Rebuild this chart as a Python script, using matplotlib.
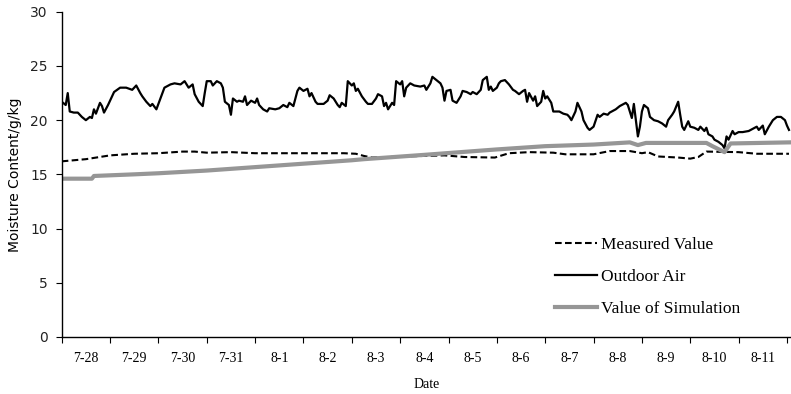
import numpy as np
import matplotlib.pyplot as plt
from matplotlib.ticker import FixedLocator, NullFormatter

# hourly stamps (hours since 7-28 00:00) and moisture content in g/kg
outdoor_hours = [0, 2, 3, 4, 6, 8, 10, 12, 14, 15, 16, 17, 19, 20, 21, 23, 25, 26, 29, 32,
                 35, 37, 39, 40, 42, 44, 45, 47, 49, 51, 54, 56, 59, 61, 63, 65, 66, 68, 70, 71,
                 72, 74, 75, 77, 79, 80, 81, 83, 84, 85, 87, 88, 90, 91, 92, 94, 96, 97, 98, 100,
                 102, 103, 106, 108, 110, 112, 113, 115, 117, 118, 120, 122, 123, 124, 126, 127, 130, 132, 133, 135,
                 137, 138, 139, 141, 142, 144, 145, 146, 147, 149, 151, 152, 154, 156, 157, 159, 160, 161, 162, 164,
                 165, 166, 168, 169, 170, 171, 173, 175, 178, 180, 181, 183, 184, 186, 188, 189, 190, 191, 193, 194,
                 196, 198, 199, 201, 203, 204, 206, 208, 209, 211, 212, 213, 214, 216, 217, 218, 220, 222, 224, 225,
                 227, 229, 230, 231, 232, 234, 235, 236, 238, 239, 240, 241, 243, 244, 246, 247, 249, 251, 252, 253,
                 255, 256, 258, 259, 261, 262, 264, 266, 267, 269, 271, 272, 275, 277, 280, 281, 283, 284, 286, 287,
                 288, 289, 291, 292, 294, 296, 298, 300, 301, 303, 304, 306, 307, 308, 309, 311, 312, 314, 316, 317,
                 319, 320, 321, 323, 324, 326, 328, 329, 330, 331, 333, 334, 336, 338, 341, 343, 345, 346, 348, 349,
                 351, 353, 355, 357, 359, 360, 361]
outdoor_air = [21.7, 21.4, 22.5, 20.8, 20.7, 20.7, 20.3, 20.0, 20.3, 20.2, 21.0, 20.6, 21.6, 21.3, 20.7, 21.4, 22.2, 22.6, 23.0, 23.0,
               22.8, 23.2, 22.5, 22.2, 21.7, 21.3, 21.5, 21.0, 22.0, 23.0, 23.3, 23.4, 23.3, 23.6, 23.0, 23.3, 22.4, 21.7, 21.3, 22.5,
               23.6, 23.6, 23.2, 23.6, 23.4, 23.0, 21.7, 21.4, 20.5, 22.0, 21.7, 21.8, 21.7, 22.2, 21.4, 21.8, 21.6, 22.0, 21.4, 21.0,
               20.8, 21.1, 21.0, 21.1, 21.4, 21.2, 21.6, 21.3, 22.7, 23.0, 22.7, 22.9, 22.2, 22.5, 21.7, 21.5, 21.5, 21.8, 22.3, 22.0,
               21.4, 21.2, 21.6, 21.3, 23.6, 23.2, 23.4, 22.7, 22.9, 22.2, 21.7, 21.5, 21.5, 22.0, 22.4, 22.2, 21.3, 21.6, 21.0, 21.6,
               21.4, 23.6, 23.3, 23.6, 22.2, 23.0, 23.4, 23.2, 23.1, 23.2, 22.8, 23.4, 24.0, 23.7, 23.4, 23.0, 21.8, 22.7, 22.8, 21.8,
               21.6, 22.2, 22.7, 22.6, 22.4, 22.6, 22.4, 22.8, 23.7, 24.0, 22.8, 23.1, 22.7, 23.0, 23.4, 23.6, 23.7, 23.3, 22.8, 22.7,
               22.4, 22.7, 22.8, 21.7, 22.5, 21.8, 22.2, 21.3, 21.7, 22.7, 22.0, 22.2, 21.6, 20.8, 20.8, 20.8, 20.6, 20.5, 20.3, 20.0,
               20.8, 21.6, 20.8, 20.0, 19.3, 19.1, 19.4, 20.5, 20.3, 20.6, 20.5, 20.7, 21.0, 21.3, 21.6, 21.4, 20.2, 21.5, 18.5, 19.4,
               20.8, 21.4, 21.1, 20.3, 20.0, 19.9, 19.7, 19.4, 20.0, 20.5, 20.8, 21.7, 20.5, 19.4, 19.1, 19.9, 19.4, 19.3, 19.1, 19.4,
               19.0, 19.3, 18.7, 18.5, 18.2, 18.0, 17.7, 17.4, 18.5, 18.2, 19.0, 18.7, 18.9, 18.9, 19.0, 19.2, 19.4, 19.1, 19.5, 18.7,
               19.4, 20.0, 20.3, 20.3, 20.0, 19.5, 19.1]

measured_hours = [0, 12, 24, 36, 48, 60, 66, 72, 84, 96, 120, 140, 146, 150, 154, 170, 190, 200, 215, 222,
                  232, 244, 250, 264, 272, 282, 288, 291, 296, 306, 312, 316, 320, 336, 345, 361]
measured = [16.2, 16.4, 16.75, 16.9, 16.95, 17.1, 17.1, 17.0, 17.05, 16.95, 16.95, 16.95, 16.9, 16.7, 16.55, 16.65, 16.75, 16.6, 16.55, 16.95,
            17.05, 17.0, 16.85, 16.85, 17.15, 17.15, 16.95, 17.05, 16.65, 16.55, 16.45, 16.6, 17.1, 17.05, 16.9, 16.9]

sim_hours = [0, 15, 16, 36, 48, 72, 144, 150, 180, 216, 240, 264, 282, 286, 290, 320, 323, 329, 332, 361]
simulation = [14.6, 14.6, 14.85, 15.0, 15.1, 15.35, 16.3, 16.4, 16.8, 17.3, 17.6, 17.75, 17.95, 17.7, 17.9, 17.9, 17.6, 17.05, 17.85, 17.95]

day_labels = ['7-28', '7-29', '7-30', '7-31', '8-1', '8-2', '8-3', '8-4',
              '8-5', '8-6', '8-7', '8-8', '8-9', '8-10', '8-11']

serif = 'Liberation Serif'

fig = plt.figure(figsize=(7.91, 3.94), dpi=100)
ax = fig.add_axes([0.078, 0.145, 0.922, 0.825])

ax.plot(measured_hours, measured, color='black', lw=1.5, ls=(0, (3.2, 1.6)),
        label='Measured Value')
ax.plot(outdoor_hours, outdoor_air, color='black', lw=1.6, label='Outdoor Air')
ax.plot(sim_hours, simulation, color='#969696', lw=3.0, label='Value of Simulation')

ax.set_xlim(0, 362)
ax.set_ylim(0, 30)
ax.set_yticks(np.arange(0, 31, 5))

# day boundaries get tick marks, labels sit in the middle of each day
n_days = len(day_labels)
ax.xaxis.set_major_locator(FixedLocator(np.arange(0, 24 * n_days + 1, 24)))
ax.xaxis.set_major_formatter(NullFormatter())
ax.xaxis.set_minor_locator(FixedLocator(np.arange(n_days) * 24 + 12))
ax.set_xticklabels(day_labels, minor=True, fontfamily=serif, fontsize=10)
ax.tick_params(axis='x', which='major', length=4, width=0.8, direction='out')
ax.tick_params(axis='x', which='minor', length=0, pad=11)
ax.tick_params(axis='y', length=4, width=0.8, labelsize=10, pad=6, labelcolor='#222222')

for s in ['top', 'right']:
    ax.spines[s].set_visible(False)
ax.spines['left'].set_linewidth(1.0)
ax.spines['bottom'].set_linewidth(1.0)

ax.set_xlabel('Date', fontfamily=serif, fontsize=10, labelpad=9)
ax.set_ylabel('Moisture Content/g/kg', fontsize=10, labelpad=6)

ax.legend(loc='upper left', bbox_to_anchor=(0.677, 0.307), frameon=False,
          prop={'family': serif, 'size': 12.5}, handlelength=2.4, handletextpad=0.2,
          labelspacing=0.9, borderaxespad=0, borderpad=0)

fig.savefig('out.png', dpi=100)
